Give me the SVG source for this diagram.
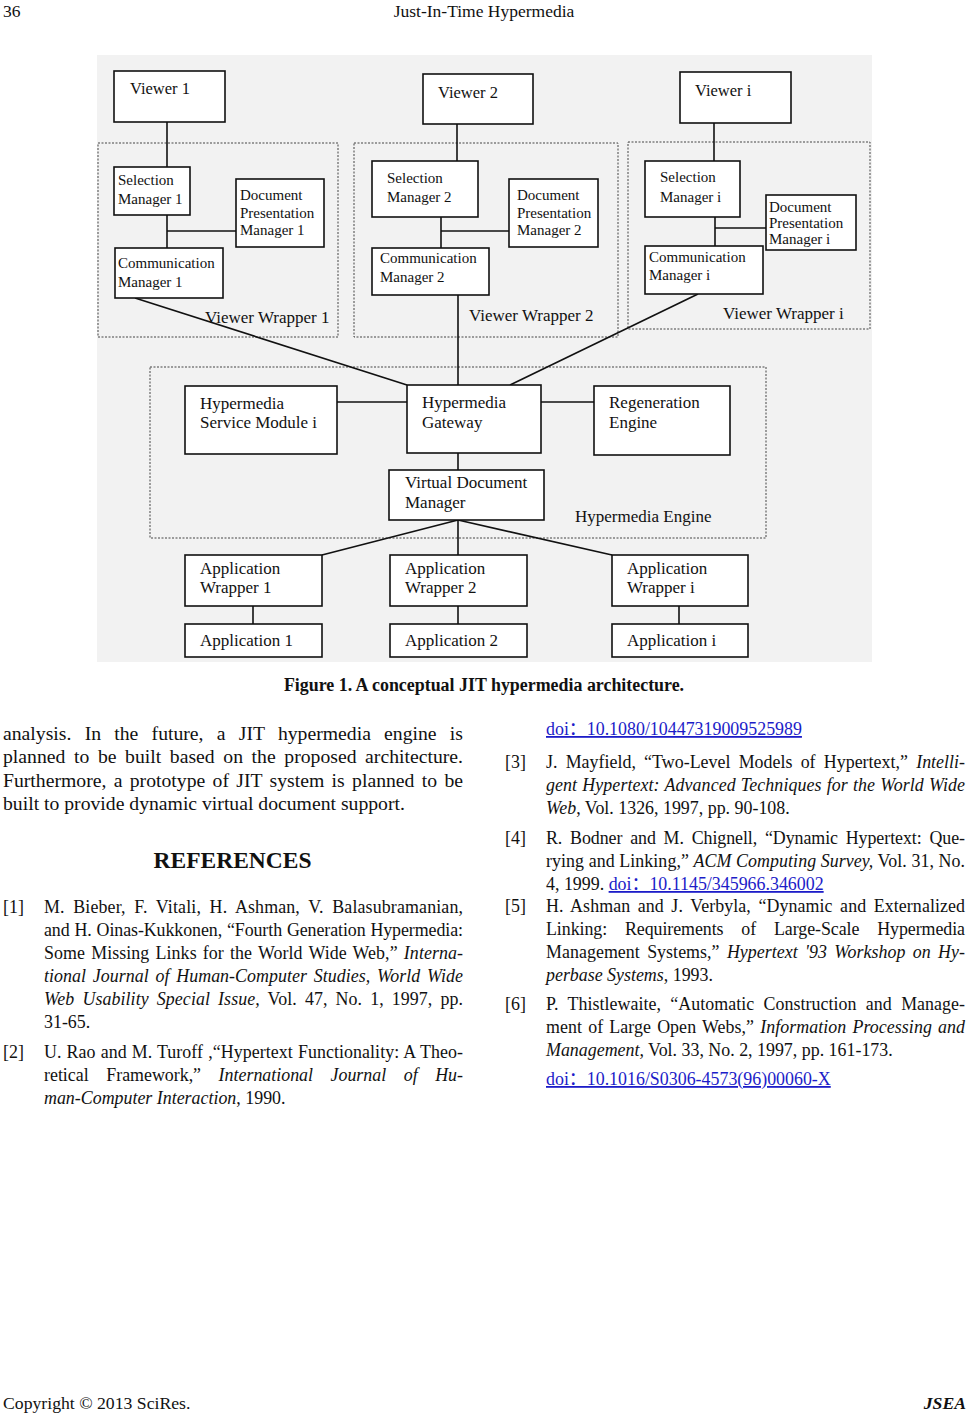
<svg xmlns="http://www.w3.org/2000/svg" width="969" height="1414" viewBox="0 0 969 1414">
<style>
.f{font-family:"Liberation Serif","Times New Roman","Noto Sans CJK SC",serif;fill:#111}
.box{fill:#fff;stroke:#111;stroke-width:1.6}
.dash{fill:none;stroke:#444;stroke-width:1;stroke-dasharray:2 1.5}
.conn line{stroke:#111;stroke-width:1.6}
.s15{font-size:15px}
.s16{font-size:16.5px}
.s17{font-size:17px}
.body{font-size:19.7px}
.ref{font-size:17.9px}
.it{font-style:italic}
.b{font-weight:bold}
.link{fill:#1c1cc8;text-decoration:underline}
</style>

<!-- header -->
<text class="f" x="3" y="17" font-size="17.5">36</text>
<text class="f" x="484" y="17" font-size="17.5" text-anchor="middle">Just-In-Time Hypermedia</text>

<!-- figure background -->
<rect x="97" y="55" width="775" height="607" fill="#f2f2f2"/>

<!-- dashed containers -->
<g id="viewer-wrapper-1">
<rect class="dash" x="98" y="143" width="240" height="194"/>
<text class="f s17" x="205" y="323">Viewer Wrapper 1</text>
</g>
<g id="viewer-wrapper-2">
<rect class="dash" x="354" y="143" width="264" height="194"/>
<text class="f s17" x="469" y="321">Viewer Wrapper 2</text>
</g>
<g id="viewer-wrapper-i">
<rect class="dash" x="628" y="142" width="242" height="187"/>
<text class="f s17" x="723" y="319">Viewer Wrapper i</text>
</g>
<g id="hypermedia-engine">
<rect class="dash" x="150" y="367" width="616" height="171"/>
<text class="f s17" x="575" y="522">Hypermedia Engine</text>
</g>

<!-- connectors -->
<g id="connectors" class="conn">
<line x1="167" y1="122" x2="167" y2="167"/>
<line x1="167" y1="215" x2="167" y2="248"/>
<line x1="167" y1="231" x2="236" y2="231"/>
<line x1="457" y1="124" x2="457" y2="161"/>
<line x1="441" y1="217" x2="441" y2="248"/>
<line x1="441" y1="231" x2="509" y2="231"/>
<line x1="714" y1="123" x2="714" y2="161"/>
<line x1="715" y1="217" x2="715" y2="246"/>
<line x1="715" y1="228" x2="766" y2="228"/>
<line x1="135" y1="298" x2="407" y2="385"/>
<line x1="458" y1="295" x2="458" y2="385"/>
<line x1="698" y1="294" x2="510" y2="385"/>
<line x1="337" y1="402" x2="407" y2="402"/>
<line x1="541" y1="402" x2="594" y2="402"/>
<line x1="458" y1="453" x2="458" y2="470"/>
<line x1="458" y1="520" x2="322" y2="555"/>
<line x1="458" y1="520" x2="458" y2="555"/>
<line x1="458" y1="520" x2="612" y2="555"/>
<line x1="253" y1="606" x2="253" y2="624"/>
<line x1="458" y1="606" x2="458" y2="624"/>
<line x1="679" y1="606" x2="679" y2="624"/>
</g>

<!-- viewers -->
<g id="viewer-1"><rect class="box" x="114" y="71" width="111" height="51"/><text class="f s16" x="130" y="94">Viewer 1</text></g>
<g id="viewer-2"><rect class="box" x="423" y="74" width="110" height="50"/><text class="f s16" x="438" y="98">Viewer 2</text></g>
<g id="viewer-i"><rect class="box" x="680" y="72" width="111" height="51"/><text class="f s16" x="695" y="96">Viewer i</text></g>

<!-- wrapper 1 -->
<g id="selection-manager-1"><rect class="box" x="114" y="167" width="76" height="48"/><text class="f s15"><tspan x="118" y="185">Selection</tspan><tspan x="118" y="204">Manager 1</tspan></text></g>
<g id="doc-presentation-manager-1"><rect class="box" x="236" y="179" width="88" height="68"/><text class="f s15"><tspan x="240" y="200">Document</tspan><tspan x="240" y="218">Presentation</tspan><tspan x="240" y="235">Manager 1</tspan></text></g>
<g id="communication-manager-1"><rect class="box" x="115" y="248" width="108" height="50"/><text class="f s15"><tspan x="118" y="268">Communication</tspan><tspan x="118" y="287">Manager 1</tspan></text></g>

<!-- wrapper 2 -->
<g id="selection-manager-2"><rect class="box" x="372" y="161" width="106" height="56"/><text class="f s15"><tspan x="387" y="183">Selection</tspan><tspan x="387" y="202">Manager 2</tspan></text></g>
<g id="doc-presentation-manager-2"><rect class="box" x="509" y="179" width="89" height="68"/><text class="f s15"><tspan x="517" y="200">Document</tspan><tspan x="517" y="218">Presentation</tspan><tspan x="517" y="235">Manager 2</tspan></text></g>
<g id="communication-manager-2"><rect class="box" x="372" y="248" width="117" height="47"/><text class="f s15"><tspan x="380" y="263">Communication</tspan><tspan x="380" y="282">Manager 2</tspan></text></g>

<!-- wrapper i -->
<g id="selection-manager-i"><rect class="box" x="645" y="161" width="95" height="56"/><text class="f s15"><tspan x="660" y="182">Selection</tspan><tspan x="660" y="202">Manager i</tspan></text></g>
<g id="doc-presentation-manager-i"><rect class="box" x="766" y="195" width="90" height="55"/><text class="f s15"><tspan x="769" y="212">Document</tspan><tspan x="769" y="228">Presentation</tspan><tspan x="769" y="244">Manager i</tspan></text></g>
<g id="communication-manager-i"><rect class="box" x="645" y="246" width="118" height="48"/><text class="f s15"><tspan x="649" y="262">Communication</tspan><tspan x="649" y="280">Manager i</tspan></text></g>

<!-- engine -->
<g id="hypermedia-service-module"><rect class="box" x="185" y="386" width="152" height="68"/><text class="f s17"><tspan x="200" y="409">Hypermedia</tspan><tspan x="200" y="428">Service Module i</tspan></text></g>
<g id="hypermedia-gateway"><rect class="box" x="407" y="385" width="134" height="68"/><text class="f s17"><tspan x="422" y="408">Hypermedia</tspan><tspan x="422" y="428">Gateway</tspan></text></g>
<g id="regeneration-engine"><rect class="box" x="594" y="386" width="136" height="69"/><text class="f s17"><tspan x="609" y="408">Regeneration</tspan><tspan x="609" y="428">Engine</tspan></text></g>
<g id="virtual-document-manager"><rect class="box" x="389" y="470" width="155" height="50"/><text class="f s17"><tspan x="405" y="488">Virtual Document</tspan><tspan x="405" y="508">Manager</tspan></text></g>

<!-- applications -->
<g id="application-wrapper-1"><rect class="box" x="185" y="555" width="137" height="51"/><text class="f s17"><tspan x="200" y="574">Application</tspan><tspan x="200" y="593">Wrapper 1</tspan></text></g>
<g id="application-wrapper-2"><rect class="box" x="390" y="555" width="137" height="51"/><text class="f s17"><tspan x="405" y="574">Application</tspan><tspan x="405" y="593">Wrapper 2</tspan></text></g>
<g id="application-wrapper-i"><rect class="box" x="612" y="555" width="136" height="51"/><text class="f s17"><tspan x="627" y="574">Application</tspan><tspan x="627" y="593">Wrapper i</tspan></text></g>
<g id="application-1"><rect class="box" x="185" y="624" width="137" height="33"/><text class="f s17" x="200" y="646">Application 1</text></g>
<g id="application-2"><rect class="box" x="390" y="624" width="137" height="33"/><text class="f s17" x="405" y="646">Application 2</text></g>
<g id="application-i"><rect class="box" x="612" y="624" width="136" height="33"/><text class="f s17" x="627" y="646">Application i</text></g>

<!-- caption -->
<text class="f b" font-size="17.9" x="484" y="691" text-anchor="middle">Figure 1. A conceptual JIT hypermedia architecture.</text>

<!-- left column paragraph -->
<text class="f body" x="3" y="739.5" word-spacing="8.3" textLength="460" lengthAdjust="spacing">analysis. In the future, a JIT hypermedia engine is</text>
<text class="f body" x="3" y="763" word-spacing="3.7" textLength="460" lengthAdjust="spacing">planned to be built based on the proposed architecture.</text>
<text class="f body" x="3" y="786.5" word-spacing="2.4" textLength="460" lengthAdjust="spacing">Furthermore, a prototype of JIT system is planned to be</text>
<text class="f body" x="3" y="810">built to provide dynamic virtual document support.</text>

<text class="f b" font-size="23.5" x="232.5" y="868" text-anchor="middle">REFERENCES</text>

<!-- left references -->
<text class="f ref" x="3" y="913">[1]</text>
<text class="f ref" x="44" y="913" word-spacing="4" textLength="419" lengthAdjust="spacing">M. Bieber, F. Vitali, H. Ashman, V. Balasubramanian,</text>
<text class="f ref" x="44" y="936" word-spacing="0.5" textLength="419" lengthAdjust="spacing">and H. Oinas-Kukkonen, “Fourth Generation Hypermedia:</text>
<text class="f ref" x="44" y="959" word-spacing="1.6" textLength="419" lengthAdjust="spacing">Some Missing Links for the World Wide Web,” <tspan class="it">Interna-</tspan></text>
<text class="f ref it" x="44" y="982" word-spacing="2.2" textLength="419" lengthAdjust="spacing">tional Journal of Human-Computer Studies, World Wide</text>
<text class="f ref" x="44" y="1005" word-spacing="3.5" textLength="419" lengthAdjust="spacing"><tspan class="it">Web Usability Special Issue,</tspan> Vol. 47, No. 1, 1997, pp.</text>
<text class="f ref" x="44" y="1028">31-65.</text>

<text class="f ref" x="3" y="1058">[2]</text>
<text class="f ref" x="44" y="1058" word-spacing="0.5" textLength="419" lengthAdjust="spacing">U. Rao and M. Turoff ,“Hypertext Functionality: A Theo-</text>
<text class="f ref" x="44" y="1081" word-spacing="13.1" textLength="419" lengthAdjust="spacing">retical Framework,” <tspan class="it">International Journal of Hu-</tspan></text>
<text class="f ref" x="44" y="1104"><tspan class="it">man-Computer Interaction</tspan>, 1990.</text>

<!-- right references -->
<text class="f ref link" x="546" y="735">doi：10.1080/10447319009525989</text>

<text class="f ref" x="505" y="768">[3]</text>
<text class="f ref" x="546" y="768" word-spacing="3.7" textLength="419" lengthAdjust="spacing">J. Mayfield, “Two-Level Models of Hypertext,” <tspan class="it">Intelli-</tspan></text>
<text class="f ref it" x="546" y="791" word-spacing="0.6" textLength="419" lengthAdjust="spacing">gent Hypertext: Advanced Techniques for the World Wide</text>
<text class="f ref" x="546" y="814"><tspan class="it">Web</tspan>, Vol. 1326, 1997, pp. 90-108.</text>

<text class="f ref" x="505" y="844">[4]</text>
<text class="f ref" x="546" y="844" word-spacing="3.4" textLength="419" lengthAdjust="spacing">R. Bodner and M. Chignell, “Dynamic Hypertext: Que-</text>
<text class="f ref" x="546" y="867" textLength="419" lengthAdjust="spacing">rying and Linking,” <tspan class="it">ACM Computing Survey,</tspan> Vol. 31, No.</text>
<text class="f ref" x="546" y="890">4, 1999. <tspan class="link">doi：10.1145/345966.346002</tspan></text>

<text class="f ref" x="505" y="912">[5]</text>
<text class="f ref" x="546" y="912" word-spacing="3" textLength="419" lengthAdjust="spacing">H. Ashman and J. Verbyla, “Dynamic and Externalized</text>
<text class="f ref" x="546" y="935" word-spacing="13.5" textLength="419" lengthAdjust="spacing">Linking: Requirements of Large-Scale Hypermedia</text>
<text class="f ref" x="546" y="958" word-spacing="2.8" textLength="419" lengthAdjust="spacing">Management Systems,” <tspan class="it">Hypertext '93 Workshop on Hy-</tspan></text>
<text class="f ref" x="546" y="981"><tspan class="it">perbase Systems</tspan>, 1993.</text>

<text class="f ref" x="505" y="1010">[6]</text>
<text class="f ref" x="546" y="1010" word-spacing="4.8" textLength="419" lengthAdjust="spacing">P. Thistlewaite, “Automatic Construction and Manage-</text>
<text class="f ref" x="546" y="1033" word-spacing="1.6" textLength="419" lengthAdjust="spacing">ment of Large Open Webs,” <tspan class="it">Information Processing and</tspan></text>
<text class="f ref" x="546" y="1056"><tspan class="it">Management,</tspan> Vol. 33, No. 2, 1997, pp. 161-173.</text>
<text class="f ref link" x="546" y="1085">doi：10.1016/S0306-4573(96)00060-X</text>

<!-- footer -->
<text class="f" x="3" y="1409" font-size="17.7">Copyright © 2013 SciRes.</text>
<text class="f b it" x="966" y="1409" font-size="17.7" text-anchor="end">JSEA</text>
</svg>
